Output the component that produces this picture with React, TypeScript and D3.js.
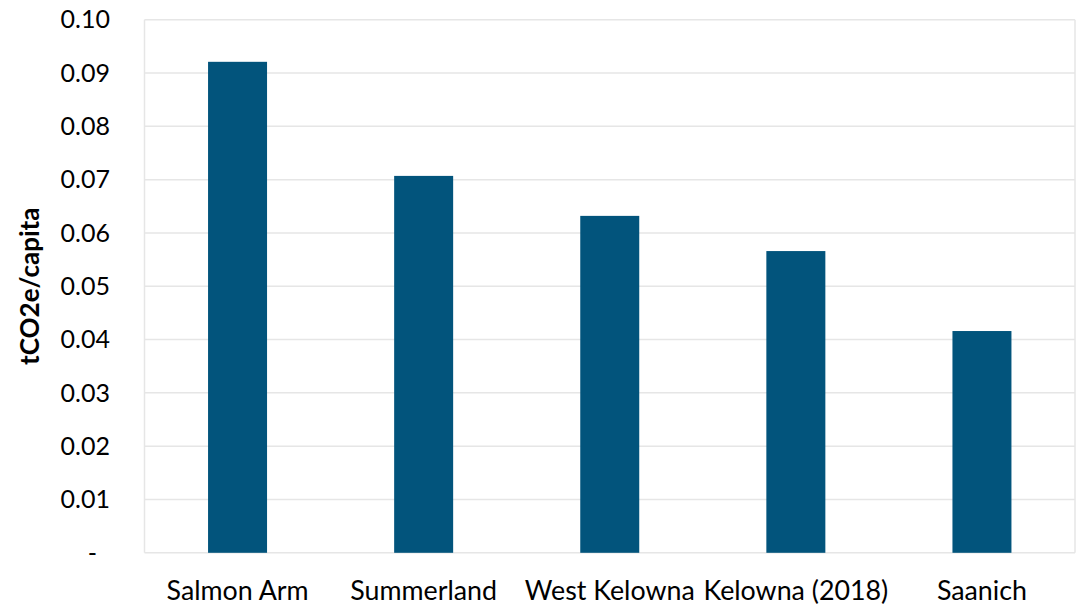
import React from "react";
import * as d3 from "d3";

const categories = ["Salmon Arm", "Summerland", "West Kelowna", "Kelowna (2018)", "Saanich"];
const values = [0.0921, 0.0707, 0.0632, 0.0566, 0.0416];
const yTicks = [0, 0.01, 0.02, 0.03, 0.04, 0.05, 0.06, 0.07, 0.08, 0.09, 0.1];
const yTitle = "tCO2e/capita";

const W = 1078;
const H = 608;
const plot = { left: 144.5, right: 1075, top: 19.7, bottom: 552.8 };
const FONT = "Lato, 'Open Sans', sans-serif";
const BAR = "#02547c";
const GRID = "#e6e6e6";

export default function App() {
  const x = d3
    .scaleBand<string>()
    .domain(categories)
    .range([plot.left, plot.right])
    .paddingInner(0.683)
    .paddingOuter(0.3415);
  const y = d3.scaleLinear().domain([0, 0.1]).range([plot.bottom, plot.top]);
  const fmt = (v: number) => (v === 0 ? "-" : d3.format(".2f")(v));

  return (
    <svg
      width={W}
      height={H}
      style={{ position: "fixed", left: 0, top: 0, background: "#fff" }}
    >
      <rect x={0} y={0} width={W} height={H} fill="#fff" />
      {yTicks.map((t) => (
        <line
          key={"g" + t}
          x1={plot.left}
          x2={plot.right}
          y1={y(t)}
          y2={y(t)}
          stroke={GRID}
          strokeWidth={1.5}
        />
      ))}
      <line x1={plot.left} x2={plot.left} y1={plot.top} y2={plot.bottom} stroke={GRID} strokeWidth={1.5} />
      <line x1={plot.right} x2={plot.right} y1={plot.top} y2={plot.bottom} stroke={GRID} strokeWidth={1.5} />
      {categories.map((c, i) => (
        <rect
          key={c}
          x={x(c)}
          y={y(values[i])}
          width={x.bandwidth()}
          height={y(0) - y(values[i])}
          fill={BAR}
        />
      ))}
      {yTicks.map((t) => (
        <text
          key={"t" + t}
          x={t === 0 ? 97 : 110}
          y={y(t)}
          dy="0.35em"
          textAnchor="end"
          fontFamily={FONT}
          fontSize={25}
          fill="#000"
        >
          {fmt(t)}
        </text>
      ))}
      {categories.map((c) => (
        <text
          key={"x" + c}
          x={(x(c) as number) + x.bandwidth() / 2}
          y={600}
          textAnchor="middle"
          fontFamily={FONT}
          fontSize={26.8}
          fill="#000"
        >
          {c}
        </text>
      ))}
      <text
        transform={`translate(39,${(plot.top + plot.bottom) / 2}) rotate(-90)`}
        textAnchor="middle"
        fontFamily={FONT}
        fontSize={26}
        fontWeight="bold"
        fill="#000"
      >
        {yTitle}
      </text>
    </svg>
  );
}
